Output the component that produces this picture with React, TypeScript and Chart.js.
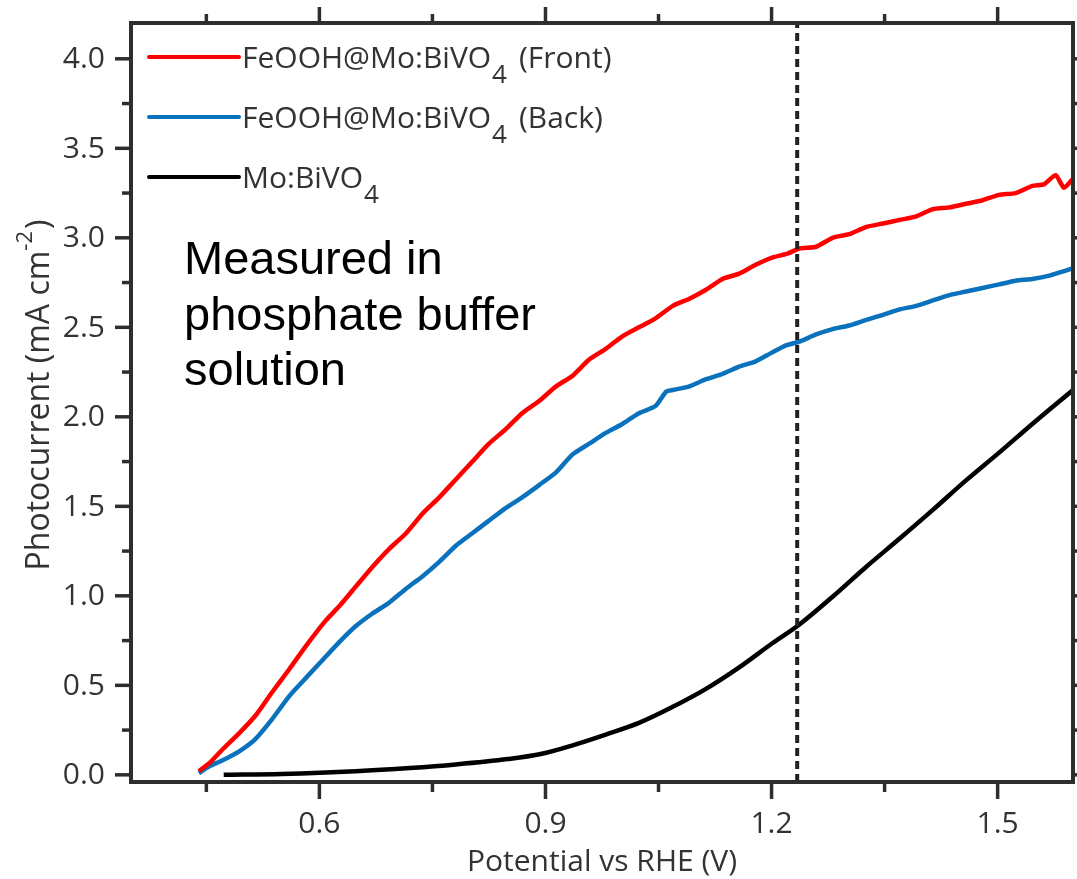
import React, { useEffect, useRef } from "react";
import { Chart, registerables } from "chart.js";

Chart.register(...registerables);

// ---------- data ----------
const frontV = [0.440, 0.455, 0.471, 0.493, 0.515, 0.537, 0.560, 0.584, 0.608, 0.628, 0.648, 0.670, 0.692, 0.715, 0.737, 0.759, 0.781, 0.803, 0.825, 0.847, 0.869, 0.892, 0.914, 0.936, 0.958, 0.980, 1.002, 1.024, 1.046, 1.069, 1.091, 1.113, 1.135, 1.157, 1.179, 1.201, 1.220, 1.237, 1.259, 1.281, 1.303, 1.325, 1.348, 1.370, 1.392, 1.414, 1.436, 1.458, 1.480, 1.502, 1.524, 1.546, 1.562, 1.577, 1.588, 1.600];
const frontI = [0.02, 0.07, 0.14, 0.23, 0.33, 0.46, 0.59, 0.73, 0.86, 0.95, 1.05, 1.16, 1.26, 1.35, 1.46, 1.55, 1.65, 1.75, 1.85, 1.93, 2.02, 2.09, 2.17, 2.23, 2.32, 2.38, 2.45, 2.50, 2.55, 2.62, 2.66, 2.71, 2.77, 2.80, 2.85, 2.89, 2.91, 2.94, 2.95, 3.00, 3.02, 3.06, 3.08, 3.10, 3.12, 3.16, 3.17, 3.19, 3.21, 3.24, 3.25, 3.29, 3.30, 3.35, 3.28, 3.33];

const backV = [0.440, 0.455, 0.471, 0.493, 0.515, 0.537, 0.560, 0.584, 0.604, 0.626, 0.648, 0.670, 0.692, 0.715, 0.737, 0.759, 0.781, 0.803, 0.825, 0.847, 0.869, 0.892, 0.914, 0.936, 0.958, 0.980, 1.002, 1.024, 1.046, 1.060, 1.069, 1.091, 1.113, 1.135, 1.157, 1.179, 1.201, 1.220, 1.237, 1.259, 1.281, 1.303, 1.325, 1.348, 1.370, 1.392, 1.414, 1.436, 1.458, 1.480, 1.502, 1.524, 1.546, 1.570, 1.585, 1.600];
const backI = [0.01, 0.05, 0.08, 0.13, 0.20, 0.31, 0.44, 0.55, 0.64, 0.74, 0.83, 0.90, 0.96, 1.04, 1.11, 1.19, 1.28, 1.35, 1.42, 1.49, 1.55, 1.62, 1.69, 1.79, 1.85, 1.91, 1.96, 2.02, 2.06, 2.14, 2.15, 2.17, 2.21, 2.24, 2.28, 2.31, 2.36, 2.40, 2.42, 2.46, 2.49, 2.51, 2.54, 2.57, 2.60, 2.62, 2.65, 2.68, 2.70, 2.72, 2.74, 2.76, 2.77, 2.79, 2.81, 2.83];

const bareV = [0.473, 0.550, 0.648, 0.720, 0.781, 0.850, 0.892, 0.936, 0.980, 1.024, 1.069, 1.113, 1.157, 1.201, 1.237, 1.281, 1.325, 1.370, 1.414, 1.458, 1.502, 1.546, 1.600];
const bareI = [0.0, 0.005, 0.02, 0.038, 0.058, 0.088, 0.115, 0.165, 0.225, 0.29, 0.38, 0.48, 0.60, 0.735, 0.84, 0.995, 1.16, 1.32, 1.48, 1.645, 1.80, 1.96, 2.15];

const seriesNames = ["FeOOH@Mo:BiVO", "FeOOH@Mo:BiVO", "Mo:BiVO"];
const seriesSubs = ["4", "4", "4"];
const seriesSuffix = ["(Front)", "(Back)", ""];
const seriesColors = ["#ff0000", "#0a72bd", "#000000"];

const xMajorTicks = [0.6, 0.9, 1.2, 1.5];
const xTickLabels = ["0.6", "0.9", "1.2", "1.5"];
const xMinorTicks = [0.45, 0.75, 1.05, 1.35];
const yMajorTicks = [0, 0.5, 1.0, 1.5, 2.0, 2.5, 3.0, 3.5, 4.0];
const yTickLabels = ["0.0", "0.5", "1.0", "1.5", "2.0", "2.5", "3.0", "3.5", "4.0"];
const yMinorTicks = [0.25, 0.75, 1.25, 1.75, 2.25, 2.75, 3.25, 3.75];
const markerV = 1.234;

const xTitle = "Potential vs RHE (V)";
const yTitleMain = "Photocurrent (mA cm";
const yTitleSup = "-2";
const yTitleEnd = ")";
const noteLines = ["Measured in", "phosphate buffer", "solution"];

const toPoints = (xs: number[], ys: number[]) => xs.map((v, i) => ({ x: v, y: ys[i] }));

const AXIS_COLOR = "#2e2e2e";
const TEXT_COLOR = "#333333";
const FONT = "'Open Sans', 'Noto Sans', sans-serif";

const decorPlugin = {
  id: "decor",
  afterDatasetsDraw(chart: any) {
    const { ctx, chartArea, scales } = chart;
    const { left, right, top, bottom } = chartArea;
    const xs = scales.x;
    const ys = scales.y;

    // dashed marker line
    ctx.save();
    ctx.strokeStyle = "#222222";
    ctx.lineWidth = 4;
    ctx.setLineDash([8, 5]);
    const mx = xs.getPixelForValue(markerV);
    ctx.beginPath();
    ctx.moveTo(mx, bottom);
    ctx.lineTo(mx, top);
    ctx.stroke();
    ctx.restore();

    // frame
    ctx.save();
    ctx.strokeStyle = AXIS_COLOR;
    ctx.lineWidth = 4;
    ctx.strokeRect(left, top, right - left, bottom - top);

    // ticks
    ctx.lineCap = "butt";
    const tick = (x1: number, y1: number, x2: number, y2: number) => {
      ctx.beginPath();
      ctx.moveTo(x1, y1);
      ctx.lineTo(x2, y2);
      ctx.stroke();
    };
    ctx.lineWidth = 3.5;
    yMajorTicks.forEach((v) => {
      const p = ys.getPixelForValue(v);
      tick(left - 16, p, left, p);
      tick(right, p, right + 16, p);
    });
    yMinorTicks.forEach((v) => {
      const p = ys.getPixelForValue(v);
      tick(left - 9, p, left, p);
      tick(right, p, right + 9, p);
    });
    xMajorTicks.forEach((v) => {
      const p = xs.getPixelForValue(v);
      tick(p, bottom, p, bottom + 17);
      tick(p, top, p, top - 16);
    });
    xMinorTicks.forEach((v) => {
      const p = xs.getPixelForValue(v);
      tick(p, bottom, p, bottom + 10);
      tick(p, top, p, top - 9);
    });

    // tick labels
    ctx.fillStyle = TEXT_COLOR;
    ctx.font = `30px ${FONT}`;
    ctx.textAlign = "right";
    ctx.textBaseline = "middle";
    yMajorTicks.forEach((v, i) => {
      ctx.fillText(yTickLabels[i], left - 26, ys.getPixelForValue(v) + 1);
    });
    ctx.textAlign = "center";
    ctx.textBaseline = "middle";
    xMajorTicks.forEach((v, i) => {
      ctx.fillText(xTickLabels[i], xs.getPixelForValue(v), bottom + 42);
    });

    // axis titles
    ctx.fillText(xTitle, (left + right) / 2, bottom + 80);

    ctx.save();
    ctx.translate(40, 395);
    ctx.rotate(-Math.PI / 2);
    ctx.textAlign = "left";
    ctx.textBaseline = "middle";
    ctx.font = `32px ${FONT}`;
    const w1 = ctx.measureText(yTitleMain).width;
    ctx.font = `22px ${FONT}`;
    const w2 = ctx.measureText(yTitleSup).width;
    ctx.font = `32px ${FONT}`;
    const w3 = ctx.measureText(yTitleEnd).width;
    const total = w1 + w2 + w3 + 2;
    let sx = -total / 2;
    ctx.fillText(yTitleMain, sx, 0);
    sx += w1;
    ctx.font = `22px ${FONT}`;
    ctx.fillText(yTitleSup, sx, -14);
    sx += w2 + 2;
    ctx.font = `32px ${FONT}`;
    ctx.fillText(yTitleEnd, sx, 0);
    ctx.restore();

    // legend
    const legendY = [57, 117, 177];
    seriesNames.forEach((name, i) => {
      const ly = legendY[i];
      ctx.strokeStyle = seriesColors[i];
      ctx.lineWidth = 4;
      ctx.lineCap = "round";
      tick(149, ly, 239, ly);
      ctx.fillStyle = TEXT_COLOR;
      ctx.textAlign = "left";
      ctx.textBaseline = "alphabetic";
      ctx.font = `30px ${FONT}`;
      let tx = 242;
      ctx.fillText(name, tx, ly + 11);
      tx += ctx.measureText(name).width + 1;
      ctx.font = `26px ${FONT}`;
      ctx.fillText(seriesSubs[i], tx, ly + 26);
      tx += ctx.measureText(seriesSubs[i]).width + 12;
      ctx.font = `30px ${FONT}`;
      if (seriesSuffix[i]) ctx.fillText(seriesSuffix[i], tx, ly + 11);
    });

    // annotation
    ctx.fillStyle = "#000000";
    ctx.font = `47px 'Liberation Sans', Arial, sans-serif`;
    ctx.textAlign = "left";
    ctx.textBaseline = "alphabetic";
    noteLines.forEach((t, i) => {
      ctx.fillText(t, 184, 274 + i * 55.5);
    });

    ctx.restore();
  },
};

export default function App() {
  const canvasRef = useRef<HTMLCanvasElement | null>(null);

  useEffect(() => {
    const canvas = canvasRef.current;
    if (!canvas) return;
    const chart = new Chart(canvas, {
      type: "line",
      data: {
        datasets: [
          {
            label: "front",
            data: toPoints(frontV, frontI),
            borderColor: seriesColors[0],
            borderWidth: 4.5,
            pointRadius: 0,
            tension: 0.2,
          },
          {
            label: "back",
            data: toPoints(backV, backI),
            borderColor: seriesColors[1],
            borderWidth: 4.5,
            pointRadius: 0,
            tension: 0.2,
          },
          {
            label: "bare",
            data: toPoints(bareV, bareI),
            borderColor: seriesColors[2],
            borderWidth: 4.5,
            pointRadius: 0,
            cubicInterpolationMode: "monotone",
          },
        ],
      },
      options: {
        responsive: false,
        animation: false,
        layout: { padding: { left: 131, top: 23, right: 4, bottom: 97 } },
        scales: {
          x: { type: "linear", display: false, min: 0.35, max: 1.6 },
          y: { type: "linear", display: false, min: -0.04, max: 4.2 },
        },
        plugins: {
          legend: { display: false },
          tooltip: { enabled: false },
        },
      },
      plugins: [decorPlugin],
    });
    return () => chart.destroy();
  }, []);

  return (
    <div style={{ position: "absolute", left: 0, top: 0, width: 1077, height: 879, background: "#fff" }}>
      <canvas ref={canvasRef} width={1077} height={879} style={{ display: "block" }} />
    </div>
  );
}
